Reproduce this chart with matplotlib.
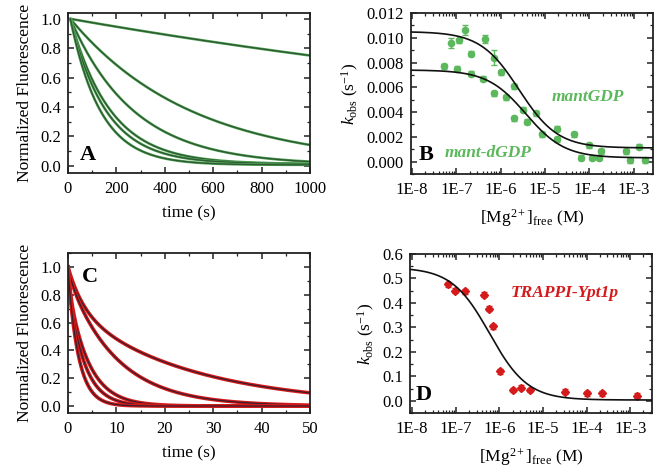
import numpy as np
import matplotlib
matplotlib.use("Agg")
import matplotlib.pyplot as plt
from matplotlib.ticker import MultipleLocator, LogLocator, FuncFormatter, NullFormatter

# ---------------- data ----------------
# Panel A: single-exponential fits of mantGDP release traces
rates_A = [0.00029, 0.00198, 0.0038, 0.0060, 0.0068, 0.0080]   # s^-1
offsets_A = [0.0, 0.0, 0.004, 0.010, 0.012, 0.005]
start_A = 10.0                                                # s

# Panel B: kobs vs free Mg2+
mg_B_gdp = [7.8e-8, 1.15e-7, 1.55e-7, 2.2e-7, 4.4e-7, 6.9e-7, 1.02e-6, 2.0e-6,
            3.2e-6, 6.3e-6, 1.9e-5, 4.4e-5, 9.8e-5, 1.8e-4, 6.6e-4, 1.3e-3]
kobs_B_gdp = [0.0096, 0.0098, 0.0106, 0.0087, 0.0099, 0.0084, 0.0072, 0.0061,
              0.0042, 0.0039, 0.00265, 0.0022, 0.0013, 0.00084, 0.00084, 0.0012]
err_B_gdp = [0.0004, 0.0002, 0.0004, 0.0002, 0.0003, 0.0006, 0.0002, 0.0002,
             0.0002, 0.0002, 0.0002, 0.0002, 0.0002, 0.0002, 0.0002, 0.0002]
mg_B_dgdp = [5.4e-8, 1.02e-7, 2.1e-7, 4.0e-7, 6.9e-7, 1.3e-6, 2.0e-6, 4.0e-6,
             8.5e-6, 1.9e-5, 6.6e-5, 1.12e-4, 1.6e-4, 8.3e-4, 1.8e-3]
kobs_B_dgdp = [0.0077, 0.0075, 0.0071, 0.0067, 0.0055, 0.0052, 0.0035, 0.0032,
               0.0022, 0.0018, 0.0003, 0.0003, 0.0003, 0.0001, 0.0001]
err_B_dgdp = [0.0002] * 15
fit_B_gdp = (0.0105, 0.0011, 2.6e-6)    # kmax, kmin, Kd
fit_B_dgdp = (0.0074, 0.0003, 3.7e-6)

# Panel C: double-exponential fits of TRAPPI-stimulated release
amp_fast_C = [0.30, 0.07, 0.13, 0.11, 0.04]
k_fast_C = [0.31, 1.0, 2.0, 2.5, 3.0]
k_slow_C = [0.040, 0.100, 0.24, 0.31, 0.45]

# Panel D
mg_D = [6.6e-8, 9.8e-8, 1.6e-7, 4.5e-7, 5.9e-7, 7.2e-7, 1.05e-6, 2.1e-6,
        3.1e-6, 5.1e-6, 3.2e-5, 1.02e-4, 2.2e-4, 1.4e-3]
kobs_D = [0.477, 0.450, 0.448, 0.434, 0.376, 0.304, 0.121, 0.044,
          0.054, 0.044, 0.0375, 0.031, 0.031, 0.020]
err_D = [0.010] * 14
fit_D = (0.545, 0.003, 6.0e-7)

# ---------------- style ----------------
plt.rcParams["font.family"] = ["Liberation Serif", "DejaVu Serif"]
plt.rcParams["mathtext.fontset"] = "custom"
plt.rcParams["mathtext.rm"] = "Liberation Serif"
plt.rcParams["mathtext.it"] = "Liberation Serif:italic"
plt.rcParams["mathtext.bf"] = "Liberation Serif:bold"
plt.rcParams["font.size"] = 12
plt.rcParams["axes.linewidth"] = 1.3

GREEN_D = "#2d5a32"
GREEN_L = "#5cb85c"
GREEN_H = "#56a85a"
RED = "#d41a1a"
DARK_RED = "#3b1c2a"

fig = plt.figure(figsize=(6.58, 4.76), dpi=100)
axA = fig.add_axes([0.1033, 0.6366, 0.3678, 0.3361])
axB = fig.add_axes([0.6246, 0.6345, 0.3678, 0.3382])
axC = fig.add_axes([0.1033, 0.1324, 0.3678, 0.3361])
axD = fig.add_axes([0.6231, 0.1324, 0.3678, 0.3340])


def style(ax):
    ax.tick_params(which="both", direction="in", top=True, right=True,
                   labelsize=12, color="#222222")
    ax.tick_params(which="major", length=4, width=1.1)
    ax.tick_params(which="minor", length=2.2, width=0.9)
    ax.tick_params(axis="x", pad=6)
    ax.tick_params(axis="y", pad=5)
    for s in ax.spines.values():
        s.set_color("#222222")


def mg_fit(x, p):
    kmax, kmin, kd = p
    return kmin + (kmax - kmin) / (1.0 + x / kd)


logfmt = FuncFormatter(lambda v, p: "1E%d" % int(round(np.log10(v))))

# ---- A ----
tA = np.linspace(start_A, 1000, 400)
for k, c in zip(rates_A, offsets_A):
    yA = c + (1 - c) * np.exp(-k * (tA - start_A))
    axA.plot(tA, yA, color=GREEN_H, lw=1.9, solid_capstyle="round")
    axA.plot(tA, yA, color=GREEN_D, lw=1.0)
axA.set_xlim(0, 1000)
axA.set_ylim(-0.05, 1.04)
axA.xaxis.set_major_locator(MultipleLocator(200))
axA.xaxis.set_minor_locator(MultipleLocator(100))
axA.yaxis.set_major_locator(MultipleLocator(0.2))
axA.yaxis.set_minor_locator(MultipleLocator(0.1))
axA.yaxis.set_major_formatter(FuncFormatter(lambda v, p: "%.1f" % v))
axA.set_xlabel("time (s)", fontsize=12.5, labelpad=6)
axA.set_ylabel("Normalized Fluorescence", fontsize=12.5, labelpad=5)
axA.text(0.083, 0.11, "A", transform=axA.transAxes, fontsize=16,
         fontweight="bold", ha="center", va="center")
style(axA)

# ---- B ----
xfit = np.logspace(-8.1, -2.4, 400)
axB.plot(xfit, mg_fit(xfit, fit_B_gdp), color="#111111", lw=1.2, zorder=3)
axB.plot(xfit, mg_fit(xfit, fit_B_dgdp), color="#111111", lw=1.2, zorder=3)
axB.errorbar(mg_B_gdp, kobs_B_gdp, yerr=err_B_gdp, fmt="o", ms=4.5,
             color=GREEN_L, ecolor=GREEN_L, elinewidth=1.0, capsize=2.5,
             capthick=1.0, mec=GREEN_L, zorder=2)
axB.errorbar(mg_B_dgdp, kobs_B_dgdp, yerr=err_B_dgdp, fmt="o", ms=4.5,
             color=GREEN_L, ecolor=GREEN_L, elinewidth=1.0, capsize=2.5,
             capthick=1.0, mec=GREEN_L, zorder=2)
axB.set_xscale("log")
axB.set_xlim(10 ** -8.02, 10 ** -2.57)
axB.set_ylim(-0.001, 0.012)
axB.xaxis.set_major_locator(LogLocator(base=10, numticks=20))
axB.xaxis.set_minor_locator(LogLocator(base=10, subs=np.arange(2, 10), numticks=20))
axB.xaxis.set_major_formatter(logfmt)
axB.xaxis.set_minor_formatter(NullFormatter())
axB.yaxis.set_major_locator(MultipleLocator(0.002))
axB.yaxis.set_minor_locator(MultipleLocator(0.001))
axB.yaxis.set_major_formatter(FuncFormatter(lambda v, p: "%.3f" % v))
axB.set_xlabel(r"$[\mathrm{Mg}^{2+}]_{\mathrm{free}}\ (\mathrm{M})$", fontsize=12.5, labelpad=6)
axB.set_ylabel(r"$k_{\mathrm{obs}}\ (\mathrm{s}^{-1})$", fontsize=12.5, labelpad=4)
axB.text(0.062, 0.118, "B", transform=axB.transAxes, fontsize=16,
         fontweight="bold", ha="center", va="center")
axB.text(0.73, 0.48, "mantGDP", transform=axB.transAxes, fontsize=12.5,
         fontweight="bold", fontstyle="italic", color=GREEN_L, ha="center", va="center")
axB.text(0.32, 0.13, "mant-dGDP", transform=axB.transAxes, fontsize=12.5,
         fontweight="bold", fontstyle="italic", color=GREEN_L, ha="center", va="center")
style(axB)

# ---- C ----
tC = np.linspace(0, 50, 600)
for af, kf, ks in zip(amp_fast_C, k_fast_C, k_slow_C):
    yC = af * np.exp(-kf * tC) + (1 - af) * np.exp(-ks * tC)
    axC.plot(tC, yC, color=RED, lw=2.6)
    axC.plot(tC, yC, color=DARK_RED, lw=0.9)
axC.set_xlim(0, 50)
axC.set_ylim(-0.05, 1.1)
axC.xaxis.set_major_locator(MultipleLocator(10))
axC.xaxis.set_minor_locator(MultipleLocator(5))
axC.yaxis.set_major_locator(MultipleLocator(0.2))
axC.yaxis.set_minor_locator(MultipleLocator(0.1))
axC.yaxis.set_major_formatter(FuncFormatter(lambda v, p: "%.1f" % v))
axC.set_xlabel("time (s)", fontsize=12.5, labelpad=6)
axC.set_ylabel("Normalized Fluorescence", fontsize=12.5, labelpad=5)
axC.text(0.089, 0.853, "C", transform=axC.transAxes, fontsize=16,
         fontweight="bold", ha="center", va="center")
style(axC)

# ---- D ----
axD.plot(xfit, mg_fit(xfit, fit_D), color="#111111", lw=1.2, zorder=3)
axD.errorbar(mg_D, kobs_D, yerr=err_D, fmt="D", ms=4.0, color=RED,
             ecolor=RED, elinewidth=1.0, capsize=2.5, capthick=1.0, mec=RED, zorder=2)
axD.set_xscale("log")
axD.set_xlim(10 ** -8.05, 10 ** -2.5)
axD.set_ylim(-0.05, 0.6)
axD.xaxis.set_major_locator(LogLocator(base=10, numticks=20))
axD.xaxis.set_minor_locator(LogLocator(base=10, subs=np.arange(2, 10), numticks=20))
axD.xaxis.set_major_formatter(logfmt)
axD.xaxis.set_minor_formatter(NullFormatter())
axD.yaxis.set_major_locator(MultipleLocator(0.1))
axD.yaxis.set_minor_locator(MultipleLocator(0.05))
axD.yaxis.set_major_formatter(FuncFormatter(lambda v, p: "%.1f" % v))
axD.set_xlabel(r"$[\mathrm{Mg}^{2+}]_{\mathrm{free}}\ (\mathrm{M})$", fontsize=12.5, labelpad=6)
axD.set_ylabel(r"$k_{\mathrm{obs}}\ (\mathrm{s}^{-1})$", fontsize=12.5, labelpad=4)
axD.text(0.058, 0.11, "D", transform=axD.transAxes, fontsize=16,
         fontweight="bold", ha="center", va="center")
axD.text(0.64, 0.755, "TRAPPI-Ypt1p", transform=axD.transAxes, fontsize=12.5,
         fontweight="bold", fontstyle="italic", color=RED, ha="center", va="center")
style(axD)

fig.savefig("out.png", dpi=100)
